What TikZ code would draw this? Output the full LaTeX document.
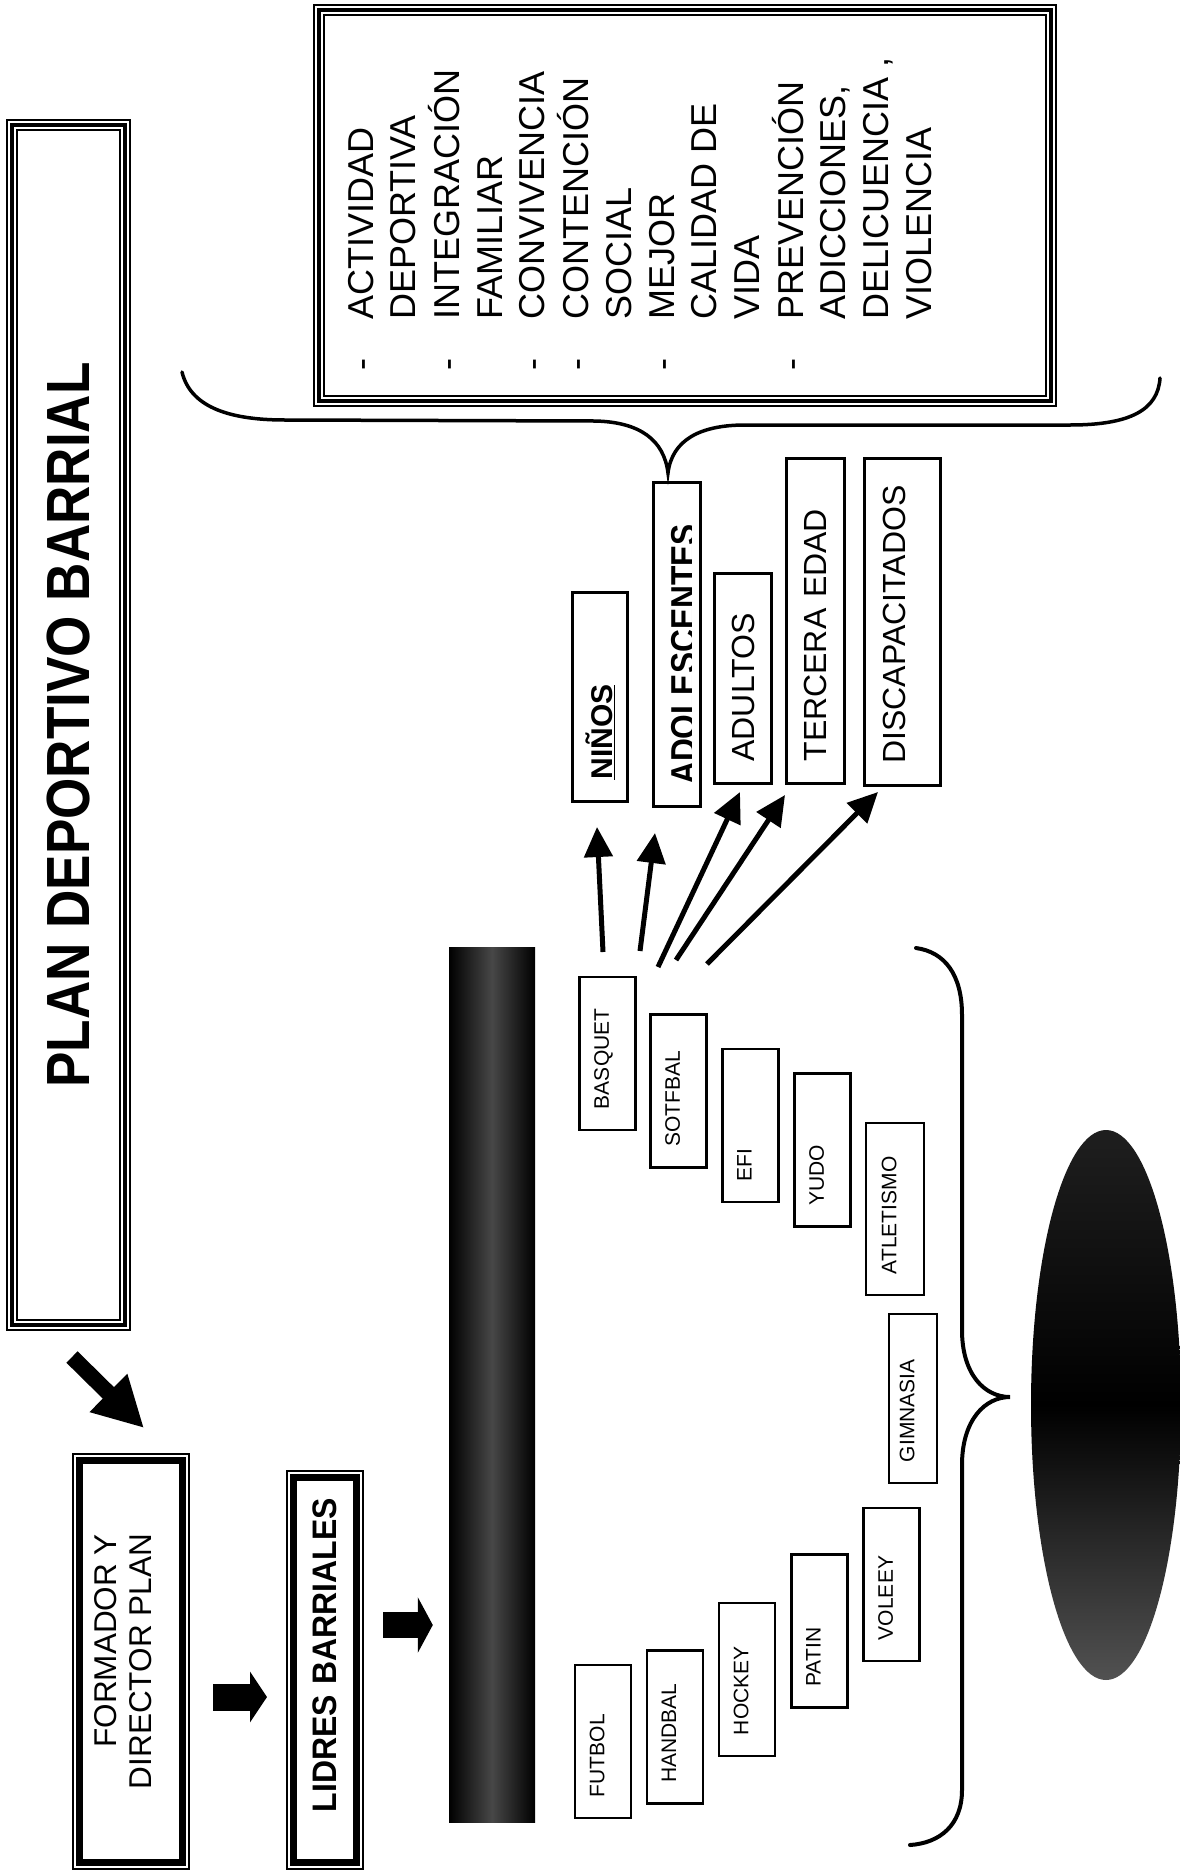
\documentclass[tikz,border=0pt]{standalone}
\usepackage{fontspec}
\setmainfont{Liberation Sans}
\usetikzlibrary{arrows.meta,shapes.geometric,calc}

\tikzset{
  tribox/.style={draw, line width=4pt, preaction={draw, line width=12pt}, preaction={draw=white, line width=8pt}},
  dblbox/.style={draw, line width=7pt, outer sep=0pt, rotate=90},
  sport/.style={rotate=90, draw, line width=2.4pt, inner xsep=21pt, inner ysep=0pt, minimum height=56pt, minimum width=153pt, text width=111pt, align=left, text depth=12pt, font=\fontsize{21}{25}\selectfont},
  grupo/.style={rotate=90, draw, line width=3pt, inner xsep=22pt, inner ysep=0pt, align=left, font=\fontsize{32}{38}\selectfont},
  flecha/.style={line width=5pt, -{Triangle[length=30pt, width=28pt]}},
  llave/.style={line width=4pt, line cap=round}
}

\begin{document}
\begin{tikzpicture}[x=1pt, y=-1pt]
\path[use as bounding box, fill=white] (0,0) rectangle (1179,1871);

% titulo y efectos
\node[tribox, rotate=90, minimum width=1200pt, minimum height=113pt, font=\bfseries\fontsize{61}{70}\selectfont] (titulo) at (68.5,725) {\scalebox{0.87}[1]{PLAN DEPORTIVO BARRIAL}};
\node[tribox, minimum width=732pt, minimum height=391pt] (efectos) at (685,205.5) {};
\node[rotate=90, anchor=north west, inner sep=0pt, font=\fontsize{36}{42.6}\selectfont] (lista) at (343,371) {%
\begin{tabular}{@{}l@{\hspace{39pt}}l@{}}
- & ACTIVIDAD\\
  & DEPORTIVA\\
- & INTEGRACIÓN\\
  & FAMILIAR\\
- & CONVIVENCIA\\
- & CONTENCIÓN\\
  & SOCIAL\\
- & MEJOR\\
  & CALIDAD DE\\
  & VIDA\\
- & PREVENCIÓN\\
  & ADICCIONES,\\
  & DELICUENCIA ,\\
  & VIOLENCIA
\end{tabular}};

% formador y lideres
\node[dblbox, minimum width=402pt, minimum height=103pt, align=right, text depth=15pt, font=\fontsize{31.5}{35}\selectfont] (formador) at (131,1661.5) {FORMADOR Y\\DIRECTOR PLAN};
\draw[line width=2pt] ($(formador.north east)+(-6.5,-6.5)$) rectangle ($(formador.south west)+(6.5,6.5)$);
\node[dblbox, minimum width=385pt, minimum height=63pt, inner xsep=20.5pt, text width=344pt, align=right, font=\bfseries\fontsize{34}{40}\selectfont] (lidres) at (325,1670) {\scalebox{0.94}[1]{LIDRES BARRIALES}};
\draw[line width=2pt] ($(lidres.north east)+(-6.5,-6.5)$) rectangle ($(lidres.south west)+(6.5,6.5)$);

\node[inner sep=0pt, minimum width=86pt, minimum height=875pt, left color=black, right color=black, middle color=black!72] (barra) at (492,1384.5) {};

\coordinate (diagA) at (72,1357);
\coordinate (diagB) at (144,1428);
\draw[line width=16pt, -{Triangle[length=50pt, width=50pt]}] (diagA) -- (diagB);
\draw[line width=27pt, -{Triangle[length=17pt, width=50pt]}] ($(formador.south)+(30.5,35.5)$) -- ($(lidres.north)+(-26.5,27)$);
\draw[line width=26pt, -{Triangle[length=15pt, width=55pt]}] ($(lidres.south)+(26.5,-45)$) -- ($(barra.west)+(-16,240.5)$);

% deportes
\node[sport] (futbol) at (603,1741.5) {FUTBOL};
\node[sport] (handbal) at (675,1727) {HANDBAL};
\node[sport] (hockey) at (747,1679.5) {HOCKEY};
\node[sport] (patin) at (819.5,1631) {PATIN};
\node[sport] (voleey) at (891.5,1584.5) {VOLEEY};
\node[sport, minimum height=48pt, minimum width=169pt, text width=127pt] (gimnasia) at (913,1398.5) {GIMNASIA};
\node[sport, minimum height=58pt, minimum width=172pt, text width=130pt] (atletismo) at (895,1209) {ATLETISMO};
\node[sport] (yudo) at (822.5,1150) {YUDO};
\node[sport] (efi) at (750.5,1125.5) {EFI};
\node[sport] (sotfbal) at (678.5,1091) {SOTFBAL};
\node[sport] (basquet) at (607.5,1053.5) {BASQUET};

% grupos
\node[grupo, minimum width=209pt, minimum height=55pt, text width=165pt, font=\bfseries\fontsize{30}{34}\selectfont] (ninos) at (600,697) {\underline{NIÑOS}};
\node[grupo, minimum width=324pt, minimum height=47pt] (adolescentes) at (677,644.5) {};
\begin{scope}
\clip (650,470) rectangle (691,820);
\node[rotate=90, anchor=base west, inner sep=0pt, font=\bfseries\fontsize{36}{40}\selectfont] (adoltxt) at (696,785) {\scalebox{0.88}[1]{ADOLESCENTES}};
\end{scope}
\node[grupo, minimum width=210pt, minimum height=57pt, text width=166pt] (adultos) at (743,678.5) {ADULTOS};
\node[grupo, minimum width=325pt, minimum height=58pt, text width=281pt] (tercera) at (815.5,621) {TERCERA EDAD};
\node[grupo, minimum width=327pt, minimum height=76pt, text width=283pt, text depth=16pt] (discap) at (902.5,622) {DISCAPACITADOS};

\coordinate (basA) at (603,952);
\coordinate (basB) at (640,951);
\coordinate (basC) at (658,967);
\coordinate (basD) at (676,960);
\coordinate (basE) at (707,964);
\draw[flecha] (basA) -- ($(ninos.west)+(-3,24)$);
\draw[flecha] (basB) -- ($(adolescentes.west)+(-22,25)$);
\draw[flecha] (basC) -- ($(adultos.west)+(-3,7)$);
\draw[flecha] (basD) -- ($(tercera.west)+(-30.5,10)$);
\draw[flecha] (basE) -- ($(discap.west)+(-24.5,5)$);

% llaves
\draw[llave, line width=3.5pt] (182,372) .. controls (190,405) and (225,420) .. (285,420) -- (595,421) .. controls (640,422) and (664,440) .. (668,473) .. controls (672,440) and (700,425) .. (745,425) -- (1070,425) .. controls (1130,425) and (1158,410) .. (1160,378);
\draw[llave] (916,948) .. controls (945,952) and (962,975) .. (962,1015) -- (962,1330) .. controls (962,1375) and (985,1397) .. (1010,1397) .. controls (985,1397) and (962,1420) .. (962,1465) -- (962,1790) .. controls (962,1825) and (940,1843) .. (910,1845);

\node[ellipse, inner sep=0pt, minimum width=150pt, minimum height=550pt, top color=black!88, bottom color=black!68, middle color=black] (ovalo) at (1106,1405) {};
\end{tikzpicture}
\end{document}
